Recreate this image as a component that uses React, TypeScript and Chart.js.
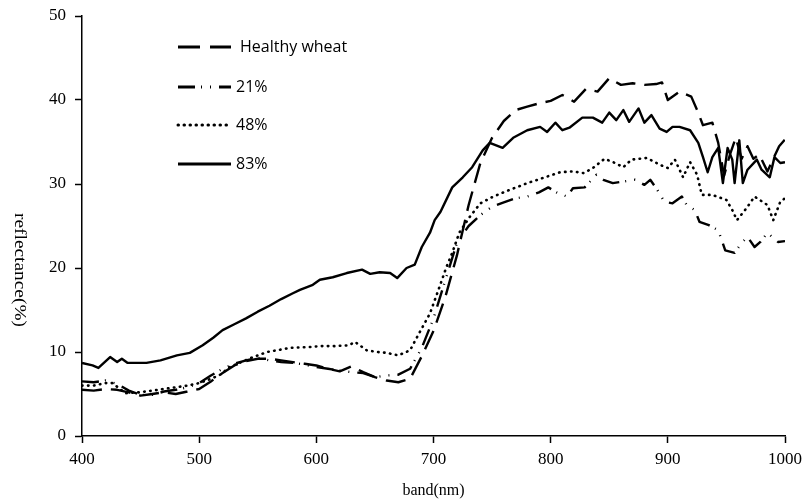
import React, { useEffect, useRef } from "react";
import { Chart, registerables } from "chart.js";

Chart.register(...registerables);

const xTicks = [400, 500, 600, 700, 800, 900, 1000];
const yTicks = [0, 10, 20, 30, 40, 50];

const healthyNm = [400, 410, 420, 430, 440, 450, 460, 470, 480, 490, 500, 510, 520, 530, 540, 550, 560, 570, 580, 590, 600, 610, 620, 630, 640, 650, 660, 670, 680, 690, 700, 710, 720, 730, 740, 750, 760, 770, 780, 790, 800, 810, 820, 830, 840, 850, 860, 870, 880, 890, 895, 900, 910, 920, 925, 930, 938, 943, 948, 953, 958, 963, 968, 973, 978, 985, 990, 995, 1000];
const healthyVal = [5.5, 5.4, 5.6, 5.5, 5.2, 4.8, 5.0, 5.2, 5.0, 5.3, 5.6, 6.5, 7.5, 8.4, 8.9, 9.2, 9.2, 9.0, 8.8, 8.6, 8.4, 8.0, 7.7, 8.3, 7.6, 7.0, 6.6, 6.4, 6.8, 9.5, 12.5, 16.5, 21.5, 27.5, 32.5, 35.5, 37.5, 38.8, 39.2, 39.6, 39.9, 40.6, 39.8, 41.3, 41.0, 42.6, 41.8, 42.0, 41.8, 41.9, 42.1, 40.0, 41.0, 40.4, 38.8, 37.0, 37.3, 34.9, 31.0, 33.5, 35.5, 33.0, 34.5, 33.0, 33.5, 31.5, 33.0, 34.5, 35.3];

const p21Nm = [400, 410, 420, 430, 440, 450, 460, 470, 480, 490, 500, 510, 520, 530, 540, 550, 560, 570, 580, 590, 600, 610, 620, 630, 640, 650, 660, 670, 680, 690, 700, 710, 720, 730, 740, 750, 760, 770, 780, 790, 798, 805, 814, 819, 829, 839, 845, 853, 862, 872, 880, 885, 891, 897, 904, 912, 916, 923, 927, 935, 943, 949, 957, 963, 968, 974, 979, 985, 994, 1000];
const p21Val = [6.5, 6.4, 6.6, 6.2, 5.4, 4.9, 4.9, 5.3, 5.5, 5.8, 6.3, 7.2, 8.0, 8.6, 9.0, 9.3, 9.0, 8.8, 8.7, 8.5, 8.2, 8.0, 7.8, 7.6, 7.5, 7.0, 7.2, 7.3, 8.0, 10.5, 14.0, 18.5, 23.0, 25.0, 26.3, 27.3, 27.8, 28.3, 28.5, 29.0, 29.6, 29.0, 28.5, 29.5, 29.6, 31.1, 30.5, 30.1, 30.3, 30.5, 29.9, 30.5, 29.3, 27.9, 27.7, 28.5, 27.5, 26.9, 25.5, 25.1, 24.5, 22.1, 21.8, 23.0, 23.7, 22.5, 23.1, 24.2, 23.1, 23.2];

const p48Nm = [400, 410, 420, 426, 437, 449, 460, 470, 480, 490, 500, 510, 518, 526, 536, 546, 558, 570, 578, 595, 603, 615, 628, 633, 643, 652, 660, 670, 680, 688, 697, 705, 711, 716, 722, 731, 740, 751, 765, 780, 793, 808, 819, 828, 836, 846, 855, 862, 869, 882, 893, 900, 906, 913, 919, 925, 929, 938, 950, 955, 959, 967, 974, 985, 990, 996, 1000];
const p48Val = [6.0, 6.0, 6.3, 6.3, 5.1, 5.2, 5.4, 5.6, 5.8, 6.0, 6.3, 6.8, 7.3, 8.2, 8.8, 9.4, 10.0, 10.3, 10.5, 10.6, 10.7, 10.7, 10.8, 11.2, 10.2, 10.0, 9.9, 9.6, 10.2, 12.3, 14.6, 17.7, 20.1, 21.8, 24.2, 26.1, 27.7, 28.5, 29.3, 30.1, 30.7, 31.4, 31.5, 31.3, 31.9, 33.0, 32.5, 32.0, 32.9, 33.1, 32.3, 31.9, 32.9, 30.8, 32.6, 31.1, 28.7, 28.7, 28.1, 26.9, 25.7, 27.1, 28.5, 27.5, 25.7, 27.9, 28.3];

const p83Nm = [400, 409, 414, 424, 430, 434, 439, 455, 467, 481, 492, 503, 512, 520, 530, 540, 550, 560, 570, 580, 586, 597, 603, 614, 626, 639, 646, 654, 663, 669, 677, 684, 690, 697, 701, 706, 716, 725, 733, 742, 748, 759, 768, 780, 791, 797, 804, 810, 816, 827, 836, 844, 850, 856, 862, 867, 875, 880, 886, 893, 899, 904, 910, 919, 926, 930, 934, 938, 943, 947, 951, 955, 957, 961, 964, 968, 976, 980, 987, 991, 996, 1000];
const p83Val = [8.7, 8.4, 8.1, 9.4, 8.8, 9.2, 8.7, 8.7, 9.0, 9.6, 9.9, 10.8, 11.7, 12.6, 13.3, 14.0, 14.8, 15.5, 16.3, 17.0, 17.4, 18.0, 18.6, 18.9, 19.4, 19.8, 19.3, 19.5, 19.4, 18.8, 20.0, 20.4, 22.5, 24.2, 25.7, 26.7, 29.6, 30.8, 32.0, 34.0, 34.9, 34.3, 35.5, 36.4, 36.8, 36.2, 37.3, 36.4, 36.7, 37.9, 37.9, 37.3, 38.5, 37.6, 38.8, 37.4, 39.0, 37.3, 38.2, 36.6, 36.2, 36.8, 36.8, 36.4, 34.9, 33.2, 31.4, 33.2, 34.3, 30.1, 34.3, 32.9, 30.1, 35.2, 30.1, 31.7, 32.9, 31.7, 30.8, 33.2, 32.5, 32.6];

const seriesLabels = ["Healthy wheat", "21%", "48%", "83%"];
const dashes: number[][] = [[20, 9], [17, 6, 1, 8, 1, 8], [0.5, 5.5], []];

function toPoints(xs: number[], ys: number[]) {
  return xs.map((x, i) => ({ x, y: ys[i] }));
}

const serif = "'Liberation Serif', 'Times New Roman', serif";

const overlayPlugin = {
  id: "overlay",
  afterDraw(chart: any) {
    const ctx = chart.ctx as CanvasRenderingContext2D;
    ctx.save();
    // y title, reading top-to-bottom
    ctx.fillStyle = "#000";
    ctx.font = `16px ${serif}`;
    const title = "reflectance(%)";
    const w = ctx.measureText(title).width;
    ctx.translate(19, 270);
    ctx.rotate(Math.PI / 2);
    ctx.scale(114 / w, 1);
    ctx.textAlign = "center";
    ctx.textBaseline = "middle";
    ctx.fillText(title, 0, 0);
    ctx.restore();

    // legend
    ctx.save();
    const ys = [47, 87, 125, 164];
    ctx.font = "16px 'Open Sans', sans-serif";
    ctx.textBaseline = "middle";
    ctx.textAlign = "left";
    seriesLabels.forEach((lab, i) => {
      const y = ys[i];
      ctx.strokeStyle = "#000";
      ctx.lineWidth = 3;
      ctx.setLineDash(i === 0 ? [22, 10] : dashes[i]);
      ctx.lineCap = i === 2 ? "round" : "butt";
      ctx.beginPath();
      ctx.moveTo(178, y);
      ctx.lineTo(231, y);
      ctx.stroke();
      ctx.setLineDash([]);
      ctx.fillStyle = "#000";
      ctx.fillText(lab, i === 0 ? 240 : 236, y);
    });
    ctx.restore();
  },
};

export default function App() {
  const ref = useRef<HTMLCanvasElement | null>(null);
  useEffect(() => {
    document.body.style.margin = "0";
    const canvas = ref.current!;
    const data = [
      toPoints(healthyNm, healthyVal),
      toPoints(p21Nm, p21Val),
      toPoints(p48Nm, p48Val),
      toPoints(p83Nm, p83Val),
    ];
    const chart = new Chart(canvas, {
      type: "line",
      data: {
        datasets: data.map((d, i) => ({
          label: seriesLabels[i],
          data: d,
          borderColor: "#000",
          borderWidth: i === 2 ? 2.6 : 2.4,
          borderDash: dashes[i],
          borderCapStyle: i === 2 ? "round" : "butt",
          borderJoinStyle: "round",
          pointRadius: 0,
          tension: 0,
          fill: false,
        })),
      },
      options: {
        animation: false,
        responsive: false,
        maintainAspectRatio: false,
        layout: { padding: { left: 0, right: 21, top: 16, bottom: 0 } },
        plugins: { legend: { display: false }, tooltip: { enabled: false } },
        scales: {
          x: {
            type: "linear",
            min: 400,
            max: 1000,
            afterBuildTicks: (s: any) => {
              s.ticks = xTicks.map((v) => ({ value: v }));
            },
            afterFit: (s: any) => {
              s.height = 68;
              s.paddingLeft = 0;
              s.paddingRight = 0;
            },
            ticks: {
              color: "#000",
              font: { family: serif, size: 17 },
              padding: 6,
              maxRotation: 0,
              callback: (v: any) => String(v),
            },
            grid: { drawOnChartArea: false, tickLength: 7, tickColor: "#000", tickWidth: 1.5 },
            border: { color: "#000", width: 1.5 },
            title: {
              display: true,
              text: "band(nm)",
              color: "#000",
              font: { family: serif, size: 16 },
              padding: { top: 10 },
            },
          },
          y: {
            type: "linear",
            min: 0,
            max: 50,
            afterBuildTicks: (s: any) => {
              s.ticks = yTicks.map((v) => ({ value: v }));
            },
            afterFit: (s: any) => {
              s.width = 82;
              s.paddingTop = 0;
              s.paddingBottom = 0;
            },
            ticks: {
              color: "#000",
              font: { family: serif, size: 17 },
              padding: 9,
              callback: (v: any) => String(v),
            },
            grid: { drawOnChartArea: false, tickLength: 7, tickColor: "#000", tickWidth: 1.5 },
            border: { color: "#000", width: 1.5 },
          },
        },
      },
      plugins: [overlayPlugin],
    } as any);
    return () => chart.destroy();
  }, []);
  return (
    <div style={{ width: 806, height: 504, background: "#fff" }}>
      <canvas ref={ref} width={806} height={504} style={{ display: "block" }} />
    </div>
  );
}
